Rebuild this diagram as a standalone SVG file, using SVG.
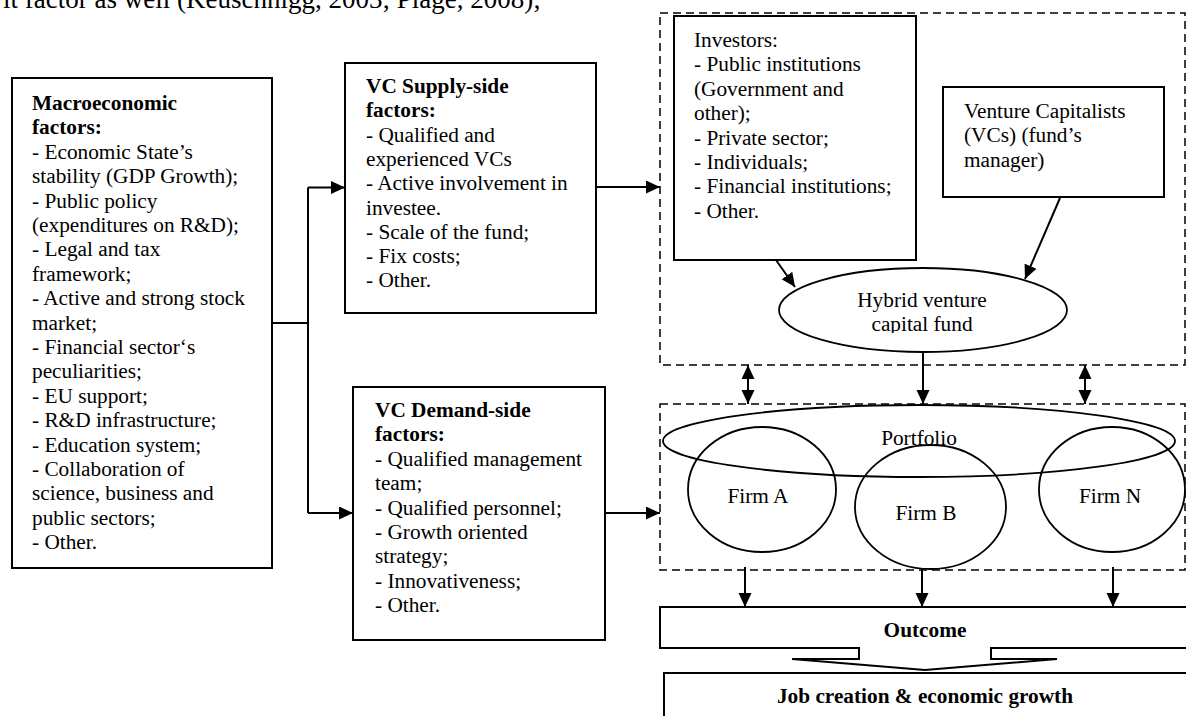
<svg xmlns="http://www.w3.org/2000/svg" width="1186" height="716" viewBox="0 0 1186 716">
<style>
.t{font-family:"Liberation Serif","Times New Roman",serif;font-size:21.3px;fill:#000}
.b{font-weight:bold}
.m{text-anchor:middle}
.box{fill:#fff;stroke:#000;stroke-width:2}
.dash{fill:none;stroke:#000;stroke-width:1.5;stroke-dasharray:8 5}
.ell{fill:none;stroke:#000;stroke-width:1.8}
.c{fill:none;stroke:#000;stroke-width:2}
</style>
<defs>
<marker id="arr" markerUnits="userSpaceOnUse" markerWidth="15" markerHeight="14" refX="14" refY="6.5" orient="auto-start-reverse">
<path d="M0,0 L14,6.5 L0,13 z" fill="#000"/>
</marker>
<clipPath id="hclip"><rect x="770" y="270" width="310" height="63"/></clipPath>
</defs>

<text class="t" x="3" y="8" font-size="27" style="font-size:27px">it factor as well (Keuschnigg, 2003; Plage, 2008);</text>

<g id="macro">
<rect class="box" x="12" y="78" width="260" height="490"/>
<text class="t b" x="32" y="110">Macroeconomic</text>
<text class="t b" x="32" y="134.4">factors:</text>
<text class="t" x="32" y="158.8">- Economic State’s</text>
<text class="t" x="32" y="183.2">stability (GDP Growth);</text>
<text class="t" x="32" y="207.6">- Public policy</text>
<text class="t" x="32" y="232">(expenditures on R&amp;D);</text>
<text class="t" x="32" y="256.4">- Legal and tax</text>
<text class="t" x="32" y="280.8">framework;</text>
<text class="t" x="32" y="305.2">- Active and strong stock</text>
<text class="t" x="32" y="329.6">market;</text>
<text class="t" x="32" y="354">- Financial sector‘s</text>
<text class="t" x="32" y="378.4">peculiarities;</text>
<text class="t" x="32" y="402.8">- EU support;</text>
<text class="t" x="32" y="427.2">- R&amp;D infrastructure;</text>
<text class="t" x="32" y="451.6">- Education system;</text>
<text class="t" x="32" y="476">- Collaboration of</text>
<text class="t" x="32" y="500.4">science, business and</text>
<text class="t" x="32" y="524.8">public sectors;</text>
<text class="t" x="32" y="549.2">- Other.</text>
</g>

<g id="supply">
<rect class="box" x="345" y="63" width="251" height="250"/>
<text class="t b" x="366" y="93">VC Supply-side</text>
<text class="t b" x="366" y="117.3">factors:</text>
<text class="t" x="366" y="141.6">- Qualified and</text>
<text class="t" x="366" y="165.9">experienced VCs</text>
<text class="t" x="366" y="190.2">- Active involvement in</text>
<text class="t" x="366" y="214.5">investee.</text>
<text class="t" x="366" y="238.8">- Scale of the fund;</text>
<text class="t" x="366" y="263.1">- Fix costs;</text>
<text class="t" x="366" y="287.4">- Other.</text>
</g>

<g id="demand">
<rect class="box" x="353" y="387" width="252" height="253"/>
<text class="t b" x="375" y="417">VC Demand-side</text>
<text class="t b" x="375" y="441.4">factors:</text>
<text class="t" x="375" y="465.8">- Qualified management</text>
<text class="t" x="375" y="490.2">team;</text>
<text class="t" x="375" y="514.6">- Qualified personnel;</text>
<text class="t" x="375" y="539">- Growth oriented</text>
<text class="t" x="375" y="563.4">strategy;</text>
<text class="t" x="375" y="587.8">- Innovativeness;</text>
<text class="t" x="375" y="612.2">- Other.</text>
</g>

<g id="fund-group">
<rect class="dash" x="660" y="13" width="525" height="352"/>
</g>

<g id="investors">
<rect class="box" x="674" y="16" width="242" height="244"/>
<text class="t" x="694" y="47">Investors:</text>
<text class="t" x="694" y="71.4">- Public institutions</text>
<text class="t" x="694" y="95.8">(Government and</text>
<text class="t" x="694" y="120.2">other);</text>
<text class="t" x="694" y="144.6">- Private sector;</text>
<text class="t" x="694" y="169">- Individuals;</text>
<text class="t" x="694" y="193.4">- Financial institutions;</text>
<text class="t" x="694" y="217.8">- Other.</text>
</g>

<g id="vcs">
<rect class="box" x="943" y="87" width="221" height="110"/>
<text class="t" x="964" y="118">Venture Capitalists</text>
<text class="t" x="964" y="142.4">(VCs) (fund’s</text>
<text class="t" x="964" y="166.8">manager)</text>
</g>

<g id="hybrid">
<ellipse class="ell" cx="923" cy="310" rx="144" ry="42" fill="#fff"/>
<g clip-path="url(#hclip)">
<text class="t m" x="922" y="307">Hybrid venture</text>
<text class="t m" x="922" y="331">capital fund</text>
</g>
</g>

<g id="portfolio-group">
<rect class="dash" x="660" y="404" width="525" height="166"/>
</g>

<g id="portfolio">
<ellipse class="ell" cx="919" cy="441" rx="256" ry="36"/>
<text class="t m" x="919" y="445">Portfolio</text>
</g>

<g id="firmA">
<ellipse class="ell" cx="762" cy="489.5" rx="74" ry="62.5"/>
<text class="t m" x="758" y="503">Firm A</text>
</g>

<g id="firmB">
<ellipse class="ell" cx="930.5" cy="507" rx="75.5" ry="62"/>
<text class="t m" x="926" y="520">Firm B</text>
</g>

<g id="firmN">
<ellipse class="ell" cx="1112" cy="489.5" rx="73" ry="62.5"/>
<text class="t m" x="1110" y="503">Firm N</text>
</g>

<g id="outcome">
<path class="box" d="M1190,607 H660 V648 H859 V659 H792 L925,670 L1057,659 H991 V648 H1190"/>
<text class="t b m" x="925" y="637">Outcome</text>
</g>

<g id="growth">
<rect class="box" x="664" y="673" width="530" height="60"/>
<text class="t b m" x="925" y="703">Job creation &amp; economic growth</text>
</g>

<g id="connectors">
<path class="c" d="M272,323 H308 M308,187.5 V513"/>
<path class="c" d="M308,187.5 H345" marker-end="url(#arr)"/>
<path class="c" d="M308,513 H353" marker-end="url(#arr)"/>
<path class="c" d="M596,187 H660" marker-end="url(#arr)"/>
<path class="c" d="M605,513 H660" marker-end="url(#arr)"/>
<path class="c" d="M776,260 L795,287" marker-end="url(#arr)"/>
<path class="c" d="M1060,198 L1025,279" marker-end="url(#arr)"/>
<path class="c" d="M923,352 V404" marker-end="url(#arr)"/>
<path class="c" d="M748,365 V404" marker-start="url(#arr)" marker-end="url(#arr)"/>
<path class="c" d="M1085,365 V404" marker-start="url(#arr)" marker-end="url(#arr)"/>
<path class="c" d="M745,567 V607" marker-end="url(#arr)"/>
<path class="c" d="M922,569 V607" marker-end="url(#arr)"/>
<path class="c" d="M1113,567 V607" marker-end="url(#arr)"/>
</g>
</svg>
